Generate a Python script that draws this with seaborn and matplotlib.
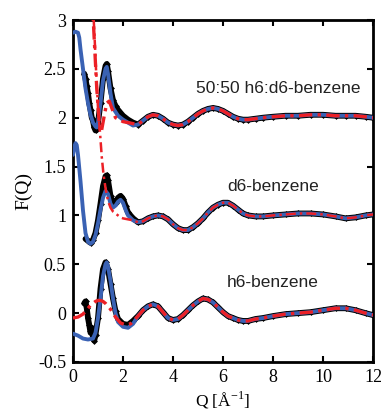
import numpy as np
import pandas as pd
import seaborn as sns
import matplotlib.pyplot as plt

# F(Q) curves (curves stacked: 50:50 +2, d6 +1, h6 +0)
offsets = {'5050': 2.0, 'd6': 1.0, 'h6': 0.0}
labels = {'5050': '50:50 h6:d6-benzene', 'd6': 'd6-benzene', 'h6': 'h6-benzene'}
label_pos = {'5050': (8.2, 2.30), 'd6': (8.0, 1.30), 'h6': (8.0, 0.31)}

# shared high-Q tail grid (all three curves coincide there)
q_tail = [2.6, 2.8, 3.0, 3.2, 3.4, 3.6, 3.8, 4.0, 4.2, 4.4, 4.6, 4.8, 5.0, 5.2, 5.4,
          5.6, 5.8, 6.0, 6.2, 6.4, 6.6, 6.8, 7.0, 7.3, 7.6, 8.0, 8.5, 9.0, 9.5,
          10.0, 10.5, 10.9, 11.3, 11.7, 12.0]
tail_5050 = [-0.07, -0.03, 0.01, 0.03, 0.02, -0.01, -0.05, -0.07, -0.08, -0.07, -0.04,
             0.0, 0.04, 0.07, 0.09, 0.10, 0.09, 0.07, 0.04, 0.01, -0.01, -0.02, -0.02,
             -0.01, 0.0, 0.01, 0.02, 0.02, 0.03, 0.03, 0.02, 0.02, 0.02, 0.01, 0.0]
tail_d6 = [-0.07, -0.06, -0.03, -0.01, 0.0, -0.01, -0.04, -0.09, -0.13, -0.15, -0.15,
           -0.12, -0.08, -0.03, 0.03, 0.08, 0.11, 0.13, 0.13, 0.10, 0.06, 0.02, 0.0,
           -0.01, -0.01, 0.0, 0.01, 0.02, 0.02, 0.01, -0.01, -0.03, -0.02, 0.0, 0.01]
tail_h6 = [-0.03, 0.03, 0.07, 0.09, 0.07, 0.01, -0.05, -0.07, -0.06, -0.02, 0.03,
           0.08, 0.12, 0.15, 0.14, 0.11, 0.06, 0.01, -0.03, -0.05, -0.07, -0.08, -0.08,
           -0.06, -0.05, -0.03, -0.01, 0.0, 0.01, 0.03, 0.05, 0.05, 0.03, 0.0, -0.02]

# low-Q parts
q_blue_5050 = [0, 0.1, 0.2, 0.25, 0.3, 0.4, 0.5, 0.6, 0.7, 0.8, 0.9, 0.95, 1.0, 1.1, 1.2,
               1.3, 1.35, 1.4, 1.5, 1.6, 1.8, 2.0, 2.2, 2.4]
f_blue_5050 = [0.87, 0.88, 0.87, 0.82, 0.70, 0.50, 0.30, 0.15, 0.03, -0.05, -0.09, -0.10,
               -0.05, 0.15, 0.38, 0.50, 0.52, 0.45, 0.25, 0.10, 0.02, -0.02, -0.05, -0.08]
q_dat_5050 = [0.45, 0.5, 0.55, 0.6, 0.65, 0.7, 0.75, 0.8, 0.85, 0.9, 0.95, 1.0, 1.1, 1.2,
              1.3, 1.35, 1.4, 1.5, 1.6, 1.7, 1.8, 2.0, 2.2, 2.4]
f_dat_5050 = [0.45, 0.40, 0.32, 0.25, 0.15, 0.08, 0.0, -0.03, -0.10, -0.13, -0.12, -0.05,
              0.15, 0.40, 0.53, 0.55, 0.48, 0.30, 0.18, 0.12, 0.08, 0.02, -0.02, -0.05]
q_red_5050 = [0.75, 0.85, 0.95, 1.05, 1.1, 1.15, 1.25, 1.35, 1.45, 1.55, 1.7, 2.0, 2.2, 2.4]
f_red_5050 = [1.30, 0.80, 0.30, -0.05, -0.15, -0.12, 0.02, 0.15, 0.17, 0.10, 0.0, -0.04,
              -0.05, -0.06]

q_blue_d6 = [0, 0.05, 0.1, 0.15, 0.2, 0.3, 0.4, 0.5, 0.6, 0.7, 0.8, 0.9, 1.0, 1.1, 1.2,
             1.3, 1.4, 1.5, 1.6, 1.7, 1.8, 1.9, 2.0, 2.1, 2.2, 2.4]
f_blue_d6 = [0.62, 0.70, 0.74, 0.72, 0.62, 0.35, 0.05, -0.18, -0.27, -0.29, -0.27, -0.20,
             -0.08, 0.06, 0.18, 0.25, 0.22, 0.12, 0.08, 0.10, 0.14, 0.16, 0.13, 0.06,
             0.0, -0.05]
q_dat_d6 = [0.5, 0.6, 0.7, 0.8, 0.9, 1.0, 1.1, 1.2, 1.3, 1.35, 1.4, 1.5, 1.6, 1.7, 1.8,
            1.9, 2.0, 2.1, 2.2, 2.4]
f_dat_d6 = [-0.24, -0.26, -0.28, -0.25, -0.18, -0.05, 0.12, 0.30, 0.40, 0.41, 0.36, 0.20,
            0.12, 0.13, 0.18, 0.20, 0.17, 0.10, 0.03, -0.03]
q_red_d6 = [0.76, 0.85, 0.92, 1.0, 1.08, 1.15, 1.22, 1.3, 1.4, 1.5, 1.6, 1.7, 1.8, 1.9,
            2.0, 2.2, 2.4]
f_red_d6 = [2.30, 1.90, 1.50, 1.10, 0.85, 0.60, 0.42, 0.28, 0.15, 0.08, 0.04, 0.02, 0.0,
            -0.02, -0.03, -0.04, -0.05]

q_blue_h6 = [0, 0.2, 0.4, 0.6, 0.8, 0.9, 1.0, 1.1, 1.2, 1.3, 1.35, 1.4, 1.5, 1.6, 1.7,
             1.8, 2.0, 2.2, 2.4]
f_blue_h6 = [-0.21, -0.23, -0.26, -0.27, -0.26, -0.20, -0.05, 0.15, 0.38, 0.50, 0.52,
             0.48, 0.33, 0.15, 0.0, -0.09, -0.14, -0.15, -0.11]
q_dat_h6 = [0.45, 0.5, 0.55, 0.6, 0.65, 0.7, 0.75, 0.8, 0.85, 0.9, 1.0, 1.1, 1.2, 1.3,
            1.4, 1.5, 1.6, 1.7, 1.8, 2.0, 2.2, 2.4]
f_dat_h6 = [0.10, 0.12, 0.05, -0.05, -0.12, -0.20, -0.15, -0.25, -0.28, -0.22, -0.05,
            0.25, 0.45, 0.52, 0.45, 0.30, 0.15, 0.02, -0.06, -0.11, -0.12, -0.08]
q_red_h6 = [0, 0.2, 0.4, 0.6, 0.7, 0.9, 1.0, 1.1, 1.2, 1.3, 1.5, 1.7, 1.9, 2.1, 2.3]
f_red_h6 = [-0.05, -0.04, -0.01, 0.05, 0.08, 0.12, 0.13, 0.13, 0.12, 0.10, 0.04, -0.04,
            -0.10, -0.12, -0.11]

curves = {
    '5050': dict(dat=(q_dat_5050, f_dat_5050), blue=(q_blue_5050, f_blue_5050),
                 red=(q_red_5050, f_red_5050), tail=tail_5050),
    'd6': dict(dat=(q_dat_d6, f_dat_d6), blue=(q_blue_d6, f_blue_d6),
               red=(q_red_d6, f_red_d6), tail=tail_d6),
    'h6': dict(dat=(q_dat_h6, f_dat_h6), blue=(q_blue_h6, f_blue_h6),
               red=(q_red_h6, f_red_h6), tail=tail_h6),
}

BLUE = '#3a62b4'
RED = '#ec2026'

sns.set_style('ticks')
plt.rcParams['font.family'] = ['Liberation Serif', 'DejaVu Serif']
plt.rcParams['mathtext.fontset'] = 'custom'
plt.rcParams['mathtext.rm'] = 'Liberation Serif'
plt.rcParams['text.color'] = 'black'
plt.rcParams['axes.labelcolor'] = 'black'
plt.rcParams['xtick.color'] = 'black'
plt.rcParams['ytick.color'] = 'black'
plt.rcParams['axes.edgecolor'] = 'black'

fig = plt.figure(figsize=(3.81, 4.17), dpi=100)
ax = fig.add_axes([73 / 381, 1 - 362 / 417, 300 / 381, 342 / 417])


def full(part, tail, off):
    q = list(part[0]) + q_tail
    f = list(part[1]) + tail
    return pd.DataFrame({'Q': q, 'F': np.array(f) + off})


for key, c in curves.items():
    off = offsets[key]
    df_dat = full(c['dat'], c['tail'], off)
    df_blue = full(c['blue'], c['tail'], off)
    df_red = full(c['red'], c['tail'], off)

    sns.lineplot(data=df_dat, x='Q', y='F', ax=ax, color='black', lw=4.2,
                 marker='D', markersize=3.5, markeredgewidth=0, sort=False,
                 estimator=None, zorder=2)
    sns.lineplot(data=df_blue, x='Q', y='F', ax=ax, color=BLUE, lw=2.8,
                 sort=False, estimator=None, zorder=3)
    sns.lineplot(data=df_red, x='Q', y='F', ax=ax, color=RED,
                 lw=1.8 if key == 'd6' else 2.4,
                 sort=False, estimator=None, zorder=4)
    ax.lines[-1].set_dashes((4, 1.6, 1, 1.6))

    x, y = label_pos[key]
    ax.text(x, y, labels[key], ha='center', va='center', fontsize=12.5,
            family=['Liberation Sans', 'DejaVu Sans'], color='#222222')

ax.set_xlim(0, 12)
ax.set_ylim(-0.5, 3)
ax.set_xticks(range(0, 13, 2))
ax.set_yticks([-0.5, 0, 0.5, 1, 1.5, 2, 2.5, 3])
ax.set_yticklabels(['-0.5', '0', '0.5', '1', '1.5', '2', '2.5', '3'])
ax.tick_params(direction='in', length=4, width=1.5, top=True, right=True,
               labelsize=13, pad=5)
for s in ax.spines.values():
    s.set_linewidth(2)
    s.set_visible(True)

ax.set_xlabel(r'Q [Å$^{-1}$]', fontsize=12.5, labelpad=3)
ax.set_ylabel('F(Q)', fontsize=14, labelpad=4)

fig.savefig('out.png', dpi=100)
